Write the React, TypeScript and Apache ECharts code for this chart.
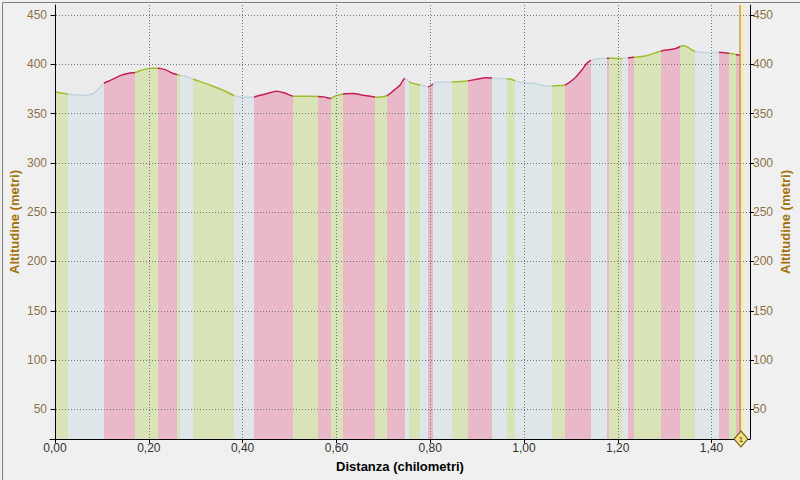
import React, { useEffect, useRef } from "react";
import * as echarts from "echarts";

// Elevation profile (distance in km, altitude in m)
const distanceKm = [
  0.000, 0.028, 0.057, 0.082, 0.104, 0.117, 0.139, 0.160, 0.171, 0.188,
  0.206, 0.219, 0.235, 0.249, 0.263, 0.281, 0.295, 0.330, 0.362, 0.384,
  0.405, 0.423, 0.433, 0.451, 0.473, 0.490, 0.508, 0.533, 0.561, 0.576,
  0.586, 0.601, 0.618, 0.636, 0.654, 0.675, 0.686, 0.707, 0.725, 0.736,
  0.746, 0.757, 0.778, 0.796, 0.807, 0.814, 0.849, 0.878, 0.899, 0.920,
  0.942, 0.970, 0.991, 1.020, 1.048, 1.070, 1.087, 1.108, 1.125, 1.134,
  1.145, 1.155, 1.176, 1.208, 1.233, 1.258, 1.294, 1.322, 1.340, 1.350,
  1.365, 1.393, 1.414, 1.436, 1.463,
];
const altitudeM = [
  372.0, 369.5, 368.4, 370.4, 380.5, 383.3, 388.4, 391.1, 391.6, 394.5,
  396.0, 396.0, 394.5, 391.1, 389.0, 387.4, 384.7, 378.9, 372.8, 367.8,
  366.5, 366.6, 368.0, 370.0, 372.5, 370.7, 367.6, 367.5, 367.3, 366.6,
  365.3, 368.4, 370.0, 370.4, 368.7, 367.3, 366.6, 368.0, 374.5, 379.0,
  385.5, 381.6, 378.9, 377.2, 380.0, 381.6, 382.0, 383.0, 384.7, 386.3,
  385.7, 385.0, 381.6, 380.6, 377.9, 378.2, 378.9, 385.7, 395.0, 401.0,
  404.4, 405.4, 406.1, 405.7, 407.1, 408.2, 413.6, 415.6, 419.0, 417.0,
  412.9, 411.5, 412.2, 411.2, 408.8,
];

// Slope bands: edges (km) and class of each band (G = green, B = blue, P = pink)
const bandEdges = [
  0, 0.0284, 0.1045, 0.1706, 0.219, 0.2595, 0.2665, 0.2936, 0.3823, 0.4243,
  0.5068, 0.5614, 0.5885, 0.6147, 0.6823, 0.7072, 0.7463, 0.7554, 0.7783, 0.7964,
  0.8066, 0.8458, 0.8812, 0.9311, 0.9631, 0.9808, 1.0591, 1.0874, 1.1429, 1.1763,
  1.1819, 1.21, 1.2224, 1.2345, 1.2932, 1.3326, 1.3646, 1.4164, 1.4367, 1.452,
  1.4627,
];
const bandKinds = [
  "G", "B", "P", "G", "P", "G", "B", "G", "B", "P",
  "G", "P", "G", "P", "G", "P", "B", "G", "B", "P",
  "B", "G", "P", "B", "G", "B", "G", "P", "B", "P",
  "G", "B", "P", "G", "P", "G", "B", "P", "G", "P",
];

const xTickValues = [0, 0.2, 0.4, 0.6, 0.8, 1.0, 1.2, 1.4];
const yTickValues = [50, 100, 150, 200, 250, 300, 350, 400, 450];
const lapMarkers = ["1"];
const lapMarkerKm = [1.4627];
const lapHighlightEndKm = [1.471];

const areaColors: Record<string, string> = { G: "#d9e3b8", B: "#dee6ea", P: "#e9b9c9" };
const lineColors: Record<string, string> = { G: "#a3bd2a", B: "#c4d4dc", P: "#c41e56" };

function buildPieces(colors: Record<string, string>) {
  return bandKinds.map((k, i) => {
    const last = i === bandKinds.length - 1;
    const p: any = { gte: bandEdges[i], color: colors[k] };
    if (last) p.lte = bandEdges[i + 1] + 0.05;
    else p.lt = bandEdges[i + 1];
    return p;
  });
}

const fmtKm = (v: number) => v.toFixed(2).replace(".", ",");
const FONT = "Liberation Sans";

export default function App() {
  const ref = useRef<HTMLDivElement>(null);
  useEffect(() => {
    if (!ref.current) return;
    const chart = echarts.init(ref.current, undefined, { renderer: "svg" });
    const data = distanceKm.map((d, i) => [d, altitudeM[i]]);
    const yAxisCommon = {
      type: "value",
      min: 20,
      max: 460,
      z: 10,
      name: "Altitudine (metri)",
      nameLocation: "middle",
      nameRotate: 90,
      nameGap: 29,
      nameMoveOverlap: false,
      nameTextStyle: { color: "#a3720d", fontWeight: "bold", fontSize: 13, fontFamily: FONT },
      axisLine: { show: true, lineStyle: { color: "#000", width: 1 } },
      axisTick: { show: true, length: 4, customValues: yTickValues, lineStyle: { color: "#000" } },
      axisLabel: {
        customValues: yTickValues,
        color: "#8c7048",
        fontSize: 12,
        fontFamily: FONT,
        margin: 3,
      },
      splitLine: { show: false },
    };
    chart.setOption({
      animation: false,
      backgroundColor: "#f0f0f0",
      grid: {
        left: 50,
        right: 50,
        top: 5,
        bottom: 41,
        outerBoundsMode: "none",
        containLabel: false,
        show: true,
        backgroundColor: "#ececef",
        borderWidth: 0,
      },
      xAxis: {
        type: "value",
        min: -0.0107,
        max: 1.482,
        z: 10,
        name: "Distanza (chilometri)",
        nameLocation: "middle",
        nameGap: 21,
        nameTextStyle: { color: "#000", fontWeight: "bold", fontSize: 13, fontFamily: FONT },
        axisLine: { show: true, onZero: false, lineStyle: { color: "#000", width: 1 } },
        axisTick: { show: true, length: 4, customValues: xTickValues, lineStyle: { color: "#000" } },
        axisLabel: {
          customValues: xTickValues,
          formatter: (v: number) => fmtKm(v),
          color: "#333",
          fontSize: 12,
          fontFamily: FONT,
          margin: 3,
        },
        splitLine: { show: true, lineStyle: { color: "#777", type: [1, 2], width: 1 } },
      },
      yAxis: [
        { ...yAxisCommon, position: "left", splitLine: { show: true, lineStyle: { color: "#777", type: [1, 2], width: 1 } } },
        { ...yAxisCommon, position: "right", nameGap: 29 },
      ],
      visualMap: [
        { type: "piecewise", show: false, dimension: 0, seriesIndex: 0, pieces: buildPieces(areaColors) },
        { type: "piecewise", show: false, dimension: 0, seriesIndex: 1, pieces: buildPieces(lineColors) },
      ],
      series: [
        {
          type: "line",
          data,
          showSymbol: false,
          symbol: "none",
          smooth: 0.3,
          lineStyle: { width: 0, opacity: 0 },
          areaStyle: { origin: "start", opacity: 1 },
          silent: true,
          z: 2,
          markArea: {
            silent: true,
            itemStyle: { color: "#f5ecc6" },
            data: lapMarkerKm.map((k, i) => [{ xAxis: k }, { xAxis: lapHighlightEndKm[i] }]),
          },
        },
        {
          type: "line",
          data,
          showSymbol: false,
          symbol: "none",
          smooth: 0.3,
          lineStyle: { width: 1.5 },
          silent: true,
          z: 3,
          markLine: {
            silent: true,
            symbol: "none",
            label: { show: false },
            lineStyle: { color: "#c9a23c", width: 1.5, type: "solid" },
            data: lapMarkerKm.map((k) => ({ xAxis: k })),
          },
          markPoint: {
            silent: true,
            z: 20,
            data: lapMarkerKm.map((k, i) => ({
              coord: [k, 20],
              symbol: "diamond",
              symbolSize: [14, 16],
              itemStyle: { color: "#f3e07a", borderColor: "#6b5a1a", borderWidth: 1 },
              label: { show: true, position: "inside", formatter: lapMarkers[i], fontSize: 8, color: "#333", fontFamily: FONT },
            })),
          },
        },
      ],
      graphic: [
        {
          type: "rect",
          left: 0,
          top: 0,
          shape: { width: 799, height: 479 },
          style: { fill: "none", stroke: "#7d7d7d", lineWidth: 1 },
          silent: true,
          z: 100,
        },
      ],
    });
    return () => chart.dispose();
  }, []);
  return (
    <div
      ref={ref}
      style={{ position: "fixed", left: 0, top: 0, width: 800, height: 480 }}
    />
  );
}
